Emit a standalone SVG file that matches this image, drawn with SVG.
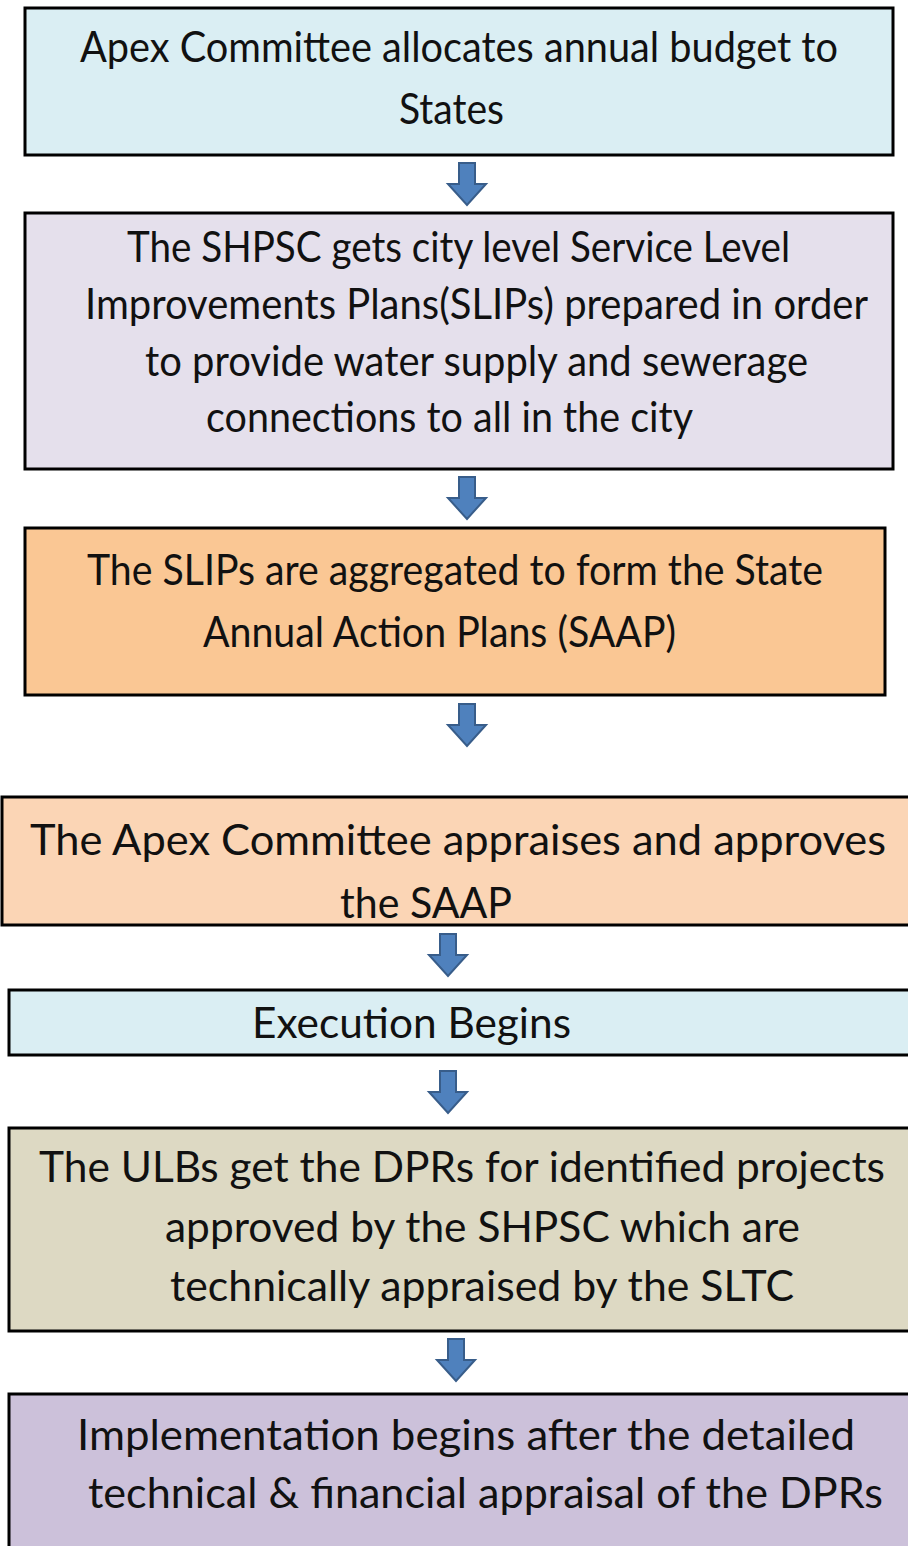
<svg xmlns="http://www.w3.org/2000/svg" width="908" height="1546" viewBox="0 0 908 1546">
<style>
.box{stroke:#000;stroke-width:3}
.t{font-family:Lato,"Open Sans","Liberation Sans",sans-serif;font-size:42px;fill:#111}
.arr{fill:#4F81BD;stroke:#385D8A;stroke-width:2}
</style>
<defs>
<path id="ar" d="M-8,0 H8 V21 H19 L0,42 L-19,21 H-8 Z"/>
</defs>
<rect width="908" height="1546" fill="#fff"/>
<g id="n1">
<rect class="box" x="25" y="8" width="868" height="147" fill="#DAEEF3"/>
<text class="t" x="80" y="62" textLength="758" lengthAdjust="spacingAndGlyphs">Apex Committee allocates annual budget to</text>
<text class="t" x="399" y="124" textLength="105" lengthAdjust="spacingAndGlyphs">States</text>
</g>
<g id="n2">
<rect class="box" x="25" y="213" width="868" height="256" fill="#E5E0EC"/>
<text class="t" x="127" y="262" textLength="663" lengthAdjust="spacingAndGlyphs">The SHPSC gets city level Service Level</text>
<text class="t" x="85" y="319" textLength="783" lengthAdjust="spacingAndGlyphs">Improvements Plans(SLIPs) prepared in order</text>
<text class="t" x="145" y="376" textLength="663" lengthAdjust="spacingAndGlyphs">to provide water supply and sewerage</text>
<text class="t" x="206" y="432" textLength="487" lengthAdjust="spacingAndGlyphs">connections to all in the city</text>
</g>
<g id="n3">
<rect class="box" x="25" y="528" width="860" height="167" fill="#FAC794"/>
<text class="t" x="87" y="585" textLength="736" lengthAdjust="spacingAndGlyphs">The SLIPs are aggregated to form the State</text>
<text class="t" x="203" y="647" textLength="473" lengthAdjust="spacingAndGlyphs">Annual Action Plans (SAAP)</text>
</g>
<g id="n4">
<rect class="box" x="2" y="797" width="910" height="128" fill="#FBD5B5"/>
<text class="t" x="30" y="855" textLength="856" lengthAdjust="spacingAndGlyphs">The Apex Committee appraises and approves</text>
<text class="t" x="340" y="918" textLength="172" lengthAdjust="spacingAndGlyphs">the SAAP</text>
</g>
<g id="n5">
<rect class="box" x="9" y="990" width="903" height="65" fill="#DAEEF3"/>
<text class="t" x="252" y="1038" textLength="319" lengthAdjust="spacingAndGlyphs">Execution Begins</text>
</g>
<g id="n6">
<rect class="box" x="9" y="1128" width="903" height="203" fill="#DDD9C3"/>
<text class="t" x="39" y="1182" textLength="846" lengthAdjust="spacingAndGlyphs">The ULBs get the DPRs for identified projects</text>
<text class="t" x="165" y="1242" textLength="635" lengthAdjust="spacingAndGlyphs">approved by the SHPSC which are</text>
<text class="t" x="170" y="1301" textLength="624" lengthAdjust="spacingAndGlyphs">technically appraised by the SLTC</text>
</g>
<g id="n7">
<rect class="box" x="9" y="1394" width="903" height="160" fill="#CCC1DA"/>
<text class="t" x="77" y="1450" textLength="778" lengthAdjust="spacingAndGlyphs">Implementation begins after the detailed</text>
<text class="t" x="88" y="1508" textLength="795" lengthAdjust="spacingAndGlyphs">technical &amp; financial appraisal of the DPRs</text>
</g>
<g id="connectors">
<use href="#ar" class="arr" x="467" y="163"/>
<use href="#ar" class="arr" x="467" y="477"/>
<use href="#ar" class="arr" x="467" y="704"/>
<use href="#ar" class="arr" x="448" y="934"/>
<use href="#ar" class="arr" x="448" y="1071"/>
<use href="#ar" class="arr" x="456" y="1339"/>
</g>
</svg>
